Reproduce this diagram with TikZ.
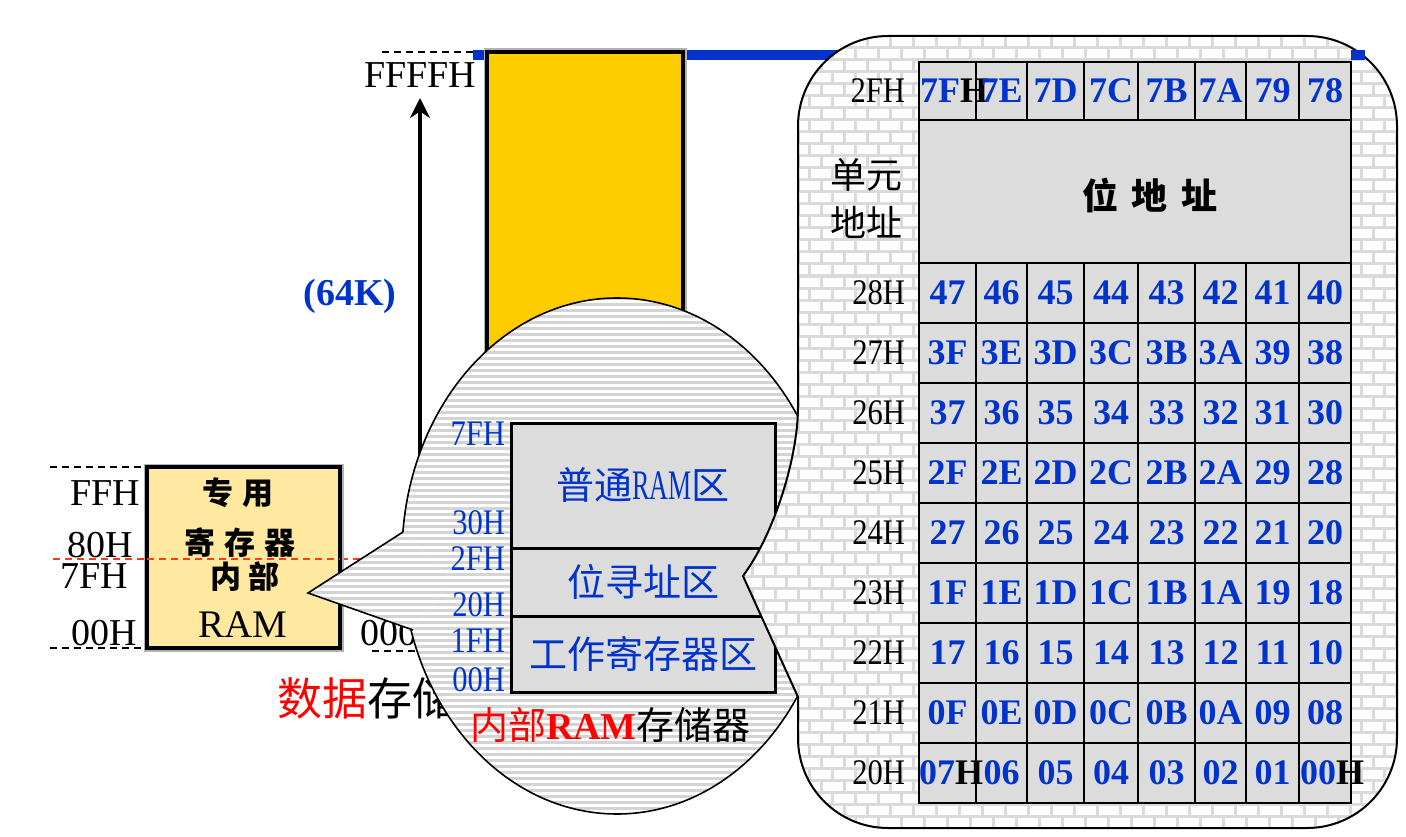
\documentclass[tikz,border=0pt]{standalone}
\usepackage{fontspec}
\setmainfont{Liberation Serif}
\newfontfamily\cjk{Noto Sans CJK SC}
\usetikzlibrary{positioning, arrows.meta}

\definecolor{bitblue}{RGB}{0,51,204}
\definecolor{sfryellow}{RGB}{255,233,160}
\definecolor{extyellow}{RGB}{255,204,0}
\definecolor{cellgray}{RGB}{220,220,220}
\definecolor{hatchgray}{RGB}{212,212,212}
\definecolor{mortargray}{RGB}{218,218,218}
\definecolor{cutred}{RGB}{255,60,20}
\newcommand{\setfs}[1]{\fontsize{#1}{#1}\selectfont}
\newcommand{\tall}[1]{\scalebox{0.85}[1]{#1}}

\begin{document}
\begin{tikzpicture}[x=1pt, y=-1pt,
    every node/.style={inner sep=0pt, outer sep=0pt},
    addr/.style={anchor=base east, font=\setfs{38}},
    rowaddr/.style={anchor=east, font=\setfs{36}},
    ramaddr/.style={anchor=base east, text=bitblue, font=\setfs{36}},
    bitnum/.style={text=bitblue, font=\setfs{36}\bfseries},
    framed/.style={draw, line width=3.5pt, preaction={draw=black!30, line width=7pt}},
    zone/.style={draw, fill=cellgray, line width=3pt, minimum width=264pt, text=bitblue, font=\cjk\setfs{38}},
    brush/.style={font=\cjk\bfseries\setfs{31}},
    guide/.style={dash pattern=on 7pt off 5pt, line width=1.2pt},
    hatch/.style={draw=hatchgray, line width=3pt},
    mortar/.style={draw=mortargray, line width=3pt}
]
\useasboundingbox (0,0) rectangle (1406,837);

% internal RAM block on the left
\draw[guide] (50,467) -- (147,467);
\draw[guide] (50,648) -- (147,648);
\draw[guide, draw=cutred] (53,559) -- (400,559);
\node[framed, fill=sfryellow, minimum width=193pt, minimum height=181pt] (sfr) at (243.5,557.5) {};
\draw[guide, draw=cutred] (sfr.west |- 0,559) -- (sfr.east |- 0,559);
\node[brush] (sfr-1) at (238,493) {专\hspace{9pt}用};
\node[brush] (sfr-2) at (240,543) {寄\hspace{9pt}存\hspace{9pt}器};
\node[brush] (sfr-3) at (245,577) {内\hspace{7pt}部};
\node[anchor=base, font=\setfs{39}] (sfr-4) at (243,637) {RAM};
\node[addr] (a-ff) at (140,505) {FFH};
\node[addr] (a-80) at (133,557) {80H};
\node[addr] (a-7f) at (128,588) {7FH};
\node[addr] (a-00) at (137,645) {00H};

% external data memory
\fill[bitblue] (473,50) rectangle (1365,60);
\draw[guide] (382,52) -- (473,52);
\node[framed, fill=extyellow, minimum width=196pt, minimum height=596pt] (ext) at (585,350) {};
\node[addr] (ext-top) at (476,88) {FFFFH};
\node[anchor=base west, font=\setfs{38}] (ext-bot) at (360,645) {0000H};
\draw[guide] (372,651) -- (480,651);
\coordinate (span-bot) at (420,640);
\coordinate (span-top) at (420,98);
\draw[-{Stealth[length=20pt, width=20pt]}, line width=4pt] (span-bot) -- (span-top);
\node[text=bitblue, font=\setfs{38}\bfseries] (size) at (350,296) {(64K)};
\node[anchor=west, font=\cjk\setfs{45}] (datamem) at (277,698) {\textcolor{red}{数据}存储器};

% zoom bubble
\begin{scope}
  \clip (617,556) ellipse [x radius=215pt, y radius=258pt];
  \fill[white] (400,295) rectangle (835,818);
  \foreach \y in {298,304,...,816}
    \draw[hatch] (400,\y) -- (835,\y);
\end{scope}
\draw[line width=1.6pt] (617,556) ellipse [x radius=215pt, y radius=258pt];
\coordinate (tip-l) at (308,593);
\coordinate (base-a) at (403,532);
\coordinate (base-b) at (413,630);
\begin{scope}
  \clip (base-a) -- (tip-l) -- (base-b) -- (452,580) -- cycle;
  \fill[white] (300,525) rectangle (455,635);
  \foreach \y in {526,532,...,634}
    \draw[hatch] (300,\y) -- (455,\y);
\end{scope}
\draw[line width=1.6pt] (base-a) -- (tip-l) -- (base-b);

\node[zone, minimum height=125pt] (general) at (643,485.5) {普通{\rmfamily\setfs{42}\scalebox{0.62}[1]{RAM}}区};
\node[zone, minimum height=68pt] (bitzone) at (643,582) {位寻址区};
\node[zone, minimum height=76pt] (workreg) at (643,654) {工作寄存器区};
\foreach \a/\y in {7FH/445, 30H/534, 2FH/570, 20H/616, 1FH/652, 00H/691}
  \node[ramaddr] (r-\a) at (505,\y) {\tall{\a}};
\node[anchor=west, font=\cjk\setfs{38}] (inram) at (470,725) {\textcolor{red}{内部{\rmfamily\bfseries RAM}}存储器};

% bit address map
\begin{scope}
  \clip (798,697) [rounded corners=90pt] -- (798,828) -- (1397,828) -- (1397,36) -- (798,36) -- (798,497) [sharp corners] -- (743,576) -- cycle;
  \fill[white] (740,30) rectangle (1400,832);
  \foreach \k in {0,...,66}
    \draw[mortar] (740,36+12*\k) -- (1400,36+12*\k);
  \foreach \m in {-6,...,56} {
    \pgfmathsetmacro\bx{798+11.5*\m}
    \pgfmathsetmacro\ph{12*mod(\m+6,2)}
    \draw[mortar, dash pattern=on 12pt off 12pt, dash phase=\ph pt] (\bx,36) -- (\bx,828);
  }
\end{scope}
\draw[line width=2pt] (798,697) [rounded corners=90pt] -- (798,828) -- (1397,828) -- (1397,36) -- (798,36) -- (798,497) [sharp corners] -- (743,576) -- cycle;
\fill[bitblue] (1351,50) rectangle (1365,60);

\fill[cellgray] (919,62) rectangle (1351,803);
\draw[line width=2pt] (919,62) rectangle (1351,803);
\foreach \y in {120,263,323,383,...,743}
  \draw[line width=2pt] (919,\y) -- (1351,\y);
\foreach \x in {976,1027,1084,1138,1195,1246,1299} {
  \draw[line width=2pt] (\x,62) -- (\x,120);
  \draw[line width=2pt] (\x,263) -- (\x,803);
}
\def\colmid{{947.5,1001.5,1055.5,1111,1166.5,1220.5,1272.5,1325}}
\node[bitnum, anchor=west] (b-0-1) at (920,91) {7F\textcolor{black}{H}};
\foreach \b [count=\c from 2] in {7E,7D,7C,7B,7A,79,78} {
  \pgfmathsetmacro\cx{\colmid[\c-1]}
  \node[bitnum] (b-0-\c) at (\cx,91) {\b};
}
\foreach \bits [count=\r] in {{47,46,45,44,43,42,41,40},{3F,3E,3D,3C,3B,3A,39,38},{37,36,35,34,33,32,31,30},{2F,2E,2D,2C,2B,2A,29,28},{27,26,25,24,23,22,21,20},{1F,1E,1D,1C,1B,1A,19,18},{17,16,15,14,13,12,11,10},{0F,0E,0D,0C,0B,0A,09,08}}
  \foreach \b [count=\c] in \bits {
    \pgfmathsetmacro\cx{\colmid[\c-1]}
    \node[bitnum] (b-\r-\c) at (\cx,233+60*\r) {\b};
  }
\node[bitnum, anchor=west] (b-9-1) at (919,773) {07\textcolor{black}{H}};
\foreach \b [count=\c from 2] in {06,05,04,03,02,01} {
  \pgfmathsetmacro\cx{\colmid[\c-1]}
  \node[bitnum] (b-9-\c) at (\cx,773) {\b};
}
\node[bitnum, anchor=west] (b-9-8) at (1300,773) {00\textcolor{black}{H}};
\node[font=\cjk\bfseries\setfs{36}] (bitaddr) at (1150,195) {位\hspace{14pt}地\hspace{14pt}址};

\node[rowaddr] (row-0) at (905,91) {\tall{2FH}};
\node[font=\cjk\setfs{36}] (unit-1) at (866,175) {单元};
\node[font=\cjk\setfs{36}] (unit-2) at (866,222) {地址};
\foreach \a [count=\r] in {28H,27H,26H,25H,24H,23H,22H,21H,20H}
  \node[rowaddr] (row-\r) at (905,233+60*\r) {\tall{\a}};
\end{tikzpicture}
\end{document}
